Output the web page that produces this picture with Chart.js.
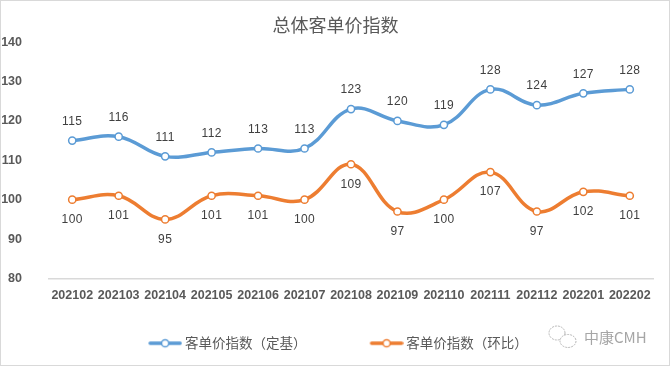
<!DOCTYPE html>
<html>
<head>
<meta charset="utf-8">
<script src="https://cdn.jsdelivr.net/npm/chart.js@4"></script>
<style>
    html, body { margin: 0; padding: 0; background: #fff; }
    #frame { position: absolute; left: 0; top: 0; width: 670px; height: 366px; box-sizing: border-box; border: 1.5px solid #d9d9d9; }
    canvas { position: absolute; left: 0; top: 0; }
</style>
</head>
<body>
<div id="frame"></div>
<canvas id="chart" width="671" height="367"></canvas>
<script>
const months = ["202102", "202103", "202104", "202105", "202106", "202107", "202108", "202109", "202110", "202111", "202112", "202201", "202202"];
const fixedBase = [115, 116, 111, 112, 113, 113, 123, 120, 119, 128, 124, 127, 128];
const monthOnMonth = [100, 101, 95, 101, 101, 100, 109, 97, 100, 107, 97, 102, 101];
const yTicks = [80, 90, 100, 110, 120, 130, 140];

const BLUE = "#5b9bd5";
const ORANGE = "#ed7d31";
const CJK = "'Noto Sans CJK SC', 'Noto Sans', sans-serif";
const LATIN = "'Liberation Sans', sans-serif";

// legend sample: short thick line with a hollow marker on it,
// kept to the right of the picture so it sits next to the text
function legendSample(color) {
    const c = document.createElement("canvas");
    c.width = 43;
    c.height = 12;
    const ctx = c.getContext("2d");
    ctx.strokeStyle = color;
    ctx.lineWidth = 3.5;
    ctx.lineCap = "round";
    ctx.beginPath();
    ctx.moveTo(11, 6);
    ctx.lineTo(41, 6);
    ctx.stroke();
    ctx.fillStyle = "#fff";
    ctx.lineWidth = 1.5;
    ctx.beginPath();
    ctx.arc(26, 6, 3.6, 0, Math.PI * 2);
    ctx.fill();
    ctx.stroke();
    return c;
}

// value labels: first series above its points, second below
const valueLabels = {
    id: "valueLabels",
    afterDatasetsDraw(chart) {
        const ctx = chart.ctx;
        ctx.save();
        ctx.font = "12px " + LATIN;
        ctx.letterSpacing = "0.4px";
        ctx.fillStyle = "#404040";
        ctx.textAlign = "center";
        ctx.textBaseline = "middle";
        chart.data.datasets.forEach((ds, i) => {
            const offset = i === 0 ? -19 : 20;
            chart.getDatasetMeta(i).data.forEach((pt, j) => {
                ctx.fillText(String(ds.data[j]), pt.x, pt.y + offset);
            });
        });
        ctx.restore();
    }
};

// faint account mark in the bottom right corner
const watermark = {
    id: "watermark",
    afterDraw(chart) {
        const ctx = chart.ctx;
        ctx.save();
        ctx.strokeStyle = "#b5b5b5";
        ctx.lineWidth = 1;
        ctx.setLineDash([2, 1]);
        ctx.beginPath();
        ctx.ellipse(557, 333, 8, 7, 0, 0, Math.PI * 2);
        ctx.stroke();
        ctx.fillStyle = "#fff";
        ctx.beginPath();
        ctx.ellipse(568, 341, 8, 6.5, 0, 0, Math.PI * 2);
        ctx.fill();
        ctx.stroke();
        ctx.font = "15px " + CJK;
        ctx.fillStyle = "#a6a6a6";
        ctx.textAlign = "left";
        ctx.textBaseline = "middle";
        ctx.fillText("中康CMH", 584, 337);
        ctx.restore();
    }
};

new Chart(document.getElementById("chart").getContext("2d"), {
    type: "line",
    data: {
        labels: months,
        datasets: [
            { label: "客单价指数（定基）", data: fixedBase, borderColor: BLUE },
            { label: "客单价指数（环比）", data: monthOnMonth, borderColor: ORANGE }
        ]
    },
    options: {
        responsive: false,
        animation: false,
        layout: { padding: { left: 0, right: 0, top: 0, bottom: 7 } },
        elements: {
            line: { borderWidth: 3.5, tension: 0.4, borderCapStyle: "round" },
            point: { radius: 3.6, borderWidth: 1.5, backgroundColor: "#fff" }
        },
        scales: {
            x: {
                offset: true,
                grid: { display: false },
                border: { color: "#d9d9d9", width: 1.5 },
                ticks: {
                    color: "#595959",
                    font: { family: LATIN, size: 12.5, weight: "bold" },
                    padding: 2,
                    maxRotation: 0,
                    autoSkip: false
                },
                afterFit(axis) { axis.height = 47; }
            },
            y: {
                min: 80,
                max: 140,
                afterBuildTicks(axis) { axis.ticks = yTicks.map(v => ({ value: v })); },
                grid: { display: false },
                border: { display: false },
                ticks: {
                    color: "#595959",
                    font: { family: LATIN, size: 12.5, weight: "bold" },
                    padding: 19
                },
                afterFit(axis) { axis.width = 49; }
            },
            // empty axis, only keeps the plot clear of the right edge
            spacer: {
                position: "right",
                grid: { display: false },
                border: { display: false },
                ticks: { display: false },
                afterFit(axis) { axis.width = 18; }
            }
        },
        plugins: {
            title: {
                display: true,
                text: "总体客单价指数",
                color: "#595959",
                font: { family: CJK, size: 18, weight: "normal" },
                padding: { top: 14, bottom: 6.5 }
            },
            legend: {
                position: "bottom",
                labels: {
                    usePointStyle: true,
                    pointStyleWidth: 35,
                    color: "#595959",
                    font: { family: CJK, size: 13.5 },
                    padding: 11,
                    // the trailing wide spaces open the gap between the two entries
                    generateLabels(chart) {
                        const base = Chart.defaults.plugins.legend.labels.generateLabels(chart);
                        base.forEach((item, i) => {
                            item.pointStyle = legendSample(i === 0 ? BLUE : ORANGE);
                            if (i === 0) item.text += "\u3000\u3000\u3000\u3000";
                        });
                        return base;
                    }
                }
            },
            tooltip: { enabled: false }
        }
    },
    plugins: [valueLabels, watermark]
});
</script>
</body>
</html>
